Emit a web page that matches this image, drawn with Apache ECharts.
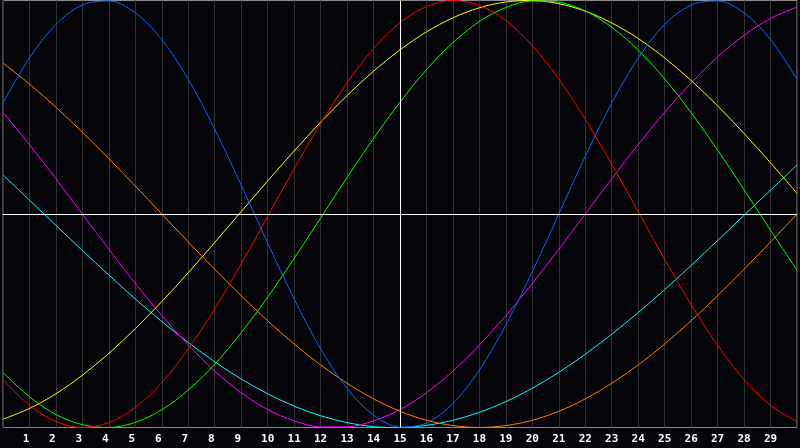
<!DOCTYPE html>
<html>
<head>
<meta charset="utf-8">
<script src="https://cdn.jsdelivr.net/npm/echarts@6/dist/echarts.min.js"></script>
<style>
html,body{margin:0;padding:0;background:#060509;}
#c{width:800px;height:448px;}
</style>
</head>
<body>
<div id="c"></div>
<script>
var days = [0,1,2,3,4,5,6,7,8,9,10,11,12,13,14,15,16,17,18,19,20,21,22,23,24,25,26,27,28,29,30];
var tickLabels = ['', '1','2','3','4','5','6','7','8','9','10','11','12','13','14','15','16','17','18','19','20','21','22','23','24','25','26','27','28','29',''];

var blue    = [0.520,0.731,0.888,0.979,0.998,0.942,0.817,0.631,0.398,0.136,-0.136,-0.398,-0.631,-0.817,-0.942,-0.998,-0.979,-0.888,-0.731,-0.520,-0.270,0.000,0.270,0.520,0.731,0.888,0.979,0.998,0.942,0.817,0.631];
var red     = [-0.775,-0.896,-0.972,-1.000,-0.977,-0.906,-0.789,-0.632,-0.445,-0.233,-0.011,0.212,0.424,0.615,0.775,0.896,0.972,1.000,0.977,0.906,0.789,0.632,0.445,0.233,0.011,-0.212,-0.424,-0.615,-0.775,-0.896,-0.972];
var green   = [-0.743,-0.856,-0.939,-0.987,-1.000,-0.976,-0.917,-0.825,-0.704,-0.556,-0.390,-0.208,-0.019,0.171,0.354,0.524,0.676,0.803,0.902,0.967,0.998,0.992,0.951,0.875,0.768,0.633,0.475,0.300,0.114,-0.076,-0.263];
var yellow  = [-0.961,-0.911,-0.842,-0.755,-0.653,-0.537,-0.410,-0.275,-0.133,0.011,0.155,0.295,0.430,0.555,0.669,0.769,0.853,0.919,0.966,0.993,1.000,0.985,0.950,0.895,0.822,0.731,0.625,0.507,0.377,0.240,0.097];
var orange  = [0.707,0.609,0.500,0.383,0.259,0.131,0.000,-0.131,-0.259,-0.383,-0.500,-0.609,-0.707,-0.793,-0.866,-0.924,-0.966,-0.991,-1.000,-0.991,-0.966,-0.924,-0.866,-0.793,-0.707,-0.609,-0.500,-0.383,-0.259,-0.131,0.000];
var magenta = [0.476,0.325,0.165,0.000,-0.165,-0.325,-0.476,-0.614,-0.736,-0.837,-0.916,-0.969,-0.997,-0.997,-0.969,-0.916,-0.837,-0.736,-0.614,-0.476,-0.325,-0.165,0.000,0.165,0.325,0.476,0.614,0.736,0.837,0.916,0.969];
var cyan    = [0.183,0.065,-0.053,-0.171,-0.286,-0.398,-0.503,-0.602,-0.692,-0.773,-0.842,-0.900,-0.945,-0.977,-0.996,-1.000,-0.990,-0.966,-0.929,-0.879,-0.816,-0.742,-0.657,-0.563,-0.462,-0.354,-0.241,-0.124,-0.006,0.112,0.229];

var todayMark = 15;

function pairs(arr){ return days.map(function(d,i){ return [d, arr[i]]; }); }

var defs = [
  {name:'cyan', data:cyan, color:'#00ffff'},
  {name:'magenta', data:magenta, color:'#ff00ff'},
  {name:'orange', data:orange, color:'#ff8000'},
  {name:'yellow', data:yellow, color:'#ffff00'},
  {name:'green', data:green, color:'#00ff00'},
  {name:'red', data:red, color:'#ff0000'},
  {name:'blue', data:blue, color:'#0066ff'}
];

var series = defs.map(function(s){
  return {
    name: s.name, type: 'line', data: pairs(s.data), smooth: 0.33,
    showSymbol: false, symbol: 'none', animation: false, silent: true,
    lineStyle: {color: s.color, width: 1}, z: 3
  };
});
series.unshift({
  type: 'line', data: [], silent: true, animation: false, z: 2,
  markLine: {
    silent: true, symbol: ['none','none'], animation: false,
    label: {show: false},
    lineStyle: {color: '#ffffff', width: 1, type: 'solid'},
    data: [{xAxis: todayMark}, {yAxis: 0}]
  }
});

var chart = echarts.init(document.getElementById('c'), null, {renderer: 'canvas'});
chart.setOption({
  backgroundColor: '#060509',
  animation: false,
  grid: {left: 0.5, right: 0.5, top: 0.5, bottom: 20.5, show: true, borderColor: '#8a8a8a', borderWidth: 1, backgroundColor: 'transparent', containLabel: false},
  xAxis: {
    type: 'value', min: 0, max: 30, interval: 1,
    axisLine: {show: true, lineStyle: {color: '#9a9a9a', width: 1}},
    axisTick: {show: false},
    splitLine: {show: true, lineStyle: {color: '#333333', width: 1}},
    axisLabel: {
      show: true, color: '#ffffff', fontWeight: 'bold', fontSize: 11,
      fontFamily: 'DejaVu Sans Mono', margin: 6,
      formatter: function(v){
        var t = tickLabels[Math.round(v)] || '';
        return t.length === 1 ? '{s|' + t + '}' : t;
      },
      rich: {
        s: {color: '#ffffff', fontWeight: 'bold', fontSize: 11, fontFamily: 'DejaVu Sans Mono', padding: [0, 7, 0, 0]}
      }
    }
  },
  yAxis: {
    type: 'value', min: -1, max: 1,
    axisLine: {show: false}, axisTick: {show: false}, axisLabel: {show: false},
    splitLine: {show: false}
  },
  series: series
});
</script>
</body>
</html>
